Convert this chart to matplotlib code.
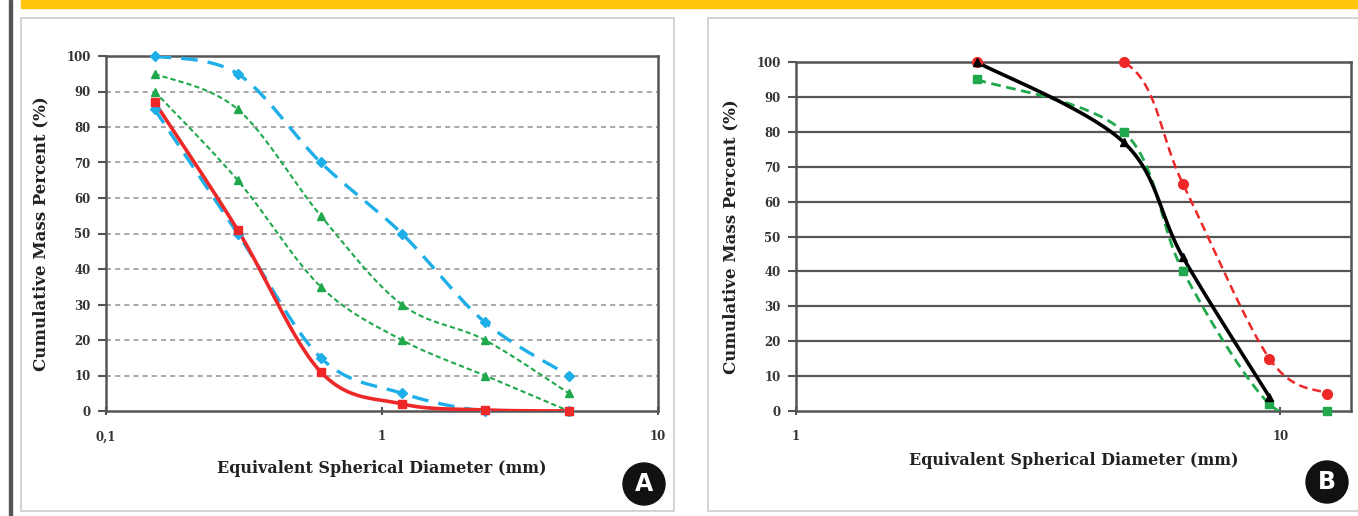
import numpy as np
import matplotlib
matplotlib.use("Agg")
import matplotlib.pyplot as plt
from matplotlib.patches import Rectangle, Ellipse
from matplotlib.ticker import FixedLocator, NullLocator

# Panel A data (sieve sizes in mm, cumulative mass percent)
sizesA = [0.15, 0.3, 0.6, 1.18, 2.36, 4.75]
blueUpperA = [100, 95, 70, 50, 25, 10]
greenUpperA = [95, 85, 55, 30, 20, 5]
greenLowerA = [90, 65, 35, 20, 10, 0]
blueLowerA = [85, 50, 15, 5, 0, 0]
redA = [87, 51, 11, 2, 0.3, 0]

# Panel B data
sizesB = [2.36, 4.75, 6.3, 9.5, 12.5]
blackB = [100, 77, 44, 4]
greenB = [95, 80, 40, 2, 0]
redB = [100, 100, 65, 15, 5]

BLUE = "#1eaee8"
GREEN = "#20a84c"
RED = "#ee2828"
SERIF = "DejaVu Serif"


# Smooth curve through points (Excel-like Bezier) in log-x space
def smooth(x, y, n=40):
    lx = np.log10(np.asarray(x, float))
    y = np.asarray(y, float)
    pts = np.column_stack([lx, y])
    pts = np.vstack([pts[0], pts, pts[-1]])
    out = []
    for i in range(1, len(pts) - 2):
        p0, p1, p2, p3 = pts[i - 1], pts[i], pts[i + 1], pts[i + 2]
        c1 = p1 + (p2 - p0) / 6
        c2 = p2 - (p3 - p1) / 6
        t = np.linspace(0, 1, n)[:, None]
        seg = (1 - t) ** 3 * p1 + 3 * (1 - t) ** 2 * t * c1 + 3 * (1 - t) * t ** 2 * c2 + t ** 3 * p2
        out.append(seg)
    out = np.vstack(out)
    return 10 ** out[:, 0], out[:, 1]


# lines are clipped to the plot area like in Excel, markers are not
def drawSeries(ax, x, y, color, lw, marker, ms, dashes=None):
    sx, sy = smooth(x, y)
    line, = ax.plot(sx, sy, color=color, lw=lw, zorder=3)
    if dashes:
        line.set_dashes(dashes)
    ax.plot(x, y, ls="none", marker=marker, ms=ms, color=color, zorder=4, clip_on=False)


def styleAxes(ax, xlim, xticks, xlabels, xlabelpad):
    ax.set_xscale("log")
    ax.set_xlim(*xlim)
    ax.set_ylim(0, 100)
    ax.xaxis.set_major_locator(FixedLocator(xticks))
    ax.xaxis.set_minor_locator(NullLocator())
    ax.set_xticklabels(xlabels)
    ax.set_yticks(np.arange(0, 101, 10))
    for lab in ax.get_xticklabels() + ax.get_yticklabels():
        lab.set_fontfamily(SERIF)
        lab.set_fontweight("bold")
        lab.set_fontsize(8.5)
        lab.set_color("#333333")
    ax.tick_params(axis="y", length=6, width=1.5, color="#555555", pad=5)
    ax.tick_params(axis="x", length=6, width=1.5, color="#555555", pad=11, direction="inout")
    for s in ax.spines.values():
        s.set_color("#555555")
        s.set_linewidth(1.8)
    ax.set_ylabel("Cumulative Mass Percent (%)", fontfamily=SERIF, fontweight="bold",
                  fontsize=12, color="#222222", labelpad=12)
    ax.set_xlabel("Equivalent Spherical Diameter (mm)", fontfamily=SERIF, fontweight="bold",
                  fontsize=11.5, color="#222222", labelpad=xlabelpad)


fig = plt.figure(figsize=(13.58, 5.16), dpi=100)

# Page decorations (behind the axes)
fig.patches.append(Rectangle((21 / 1358, 1 - 8 / 516), 1 - 21 / 1358, 8 / 516,
                             transform=fig.transFigure, color="#ffc60b", zorder=-1))
fig.patches.append(Rectangle((9 / 1358, 0), 2.5 / 1358, 1, transform=fig.transFigure,
                             color="#555555", zorder=-1))
fig.patches.append(Rectangle((21 / 1358, 5 / 516), 653 / 1358, 493 / 516, transform=fig.transFigure,
                             fc="white", ec="#cccccc", lw=1.2, zorder=-1))
fig.patches.append(Rectangle((708 / 1358, 5 / 516), 660 / 1358, 493 / 516, transform=fig.transFigure,
                             fc="white", ec="#cccccc", lw=1.2, zorder=-1))

# Panel A
axA = fig.add_axes([106 / 1358, 105 / 516, 552 / 1358, 355 / 516])
axA.set_facecolor("none")
for yv in range(10, 100, 10):
    axA.axhline(yv, color="#999999", lw=1.2, ls=(0, (3, 2.5)), zorder=1)
drawSeries(axA, sizesA, blueUpperA, BLUE, 2.4, "D", 5, dashes=(5, 3))
drawSeries(axA, sizesA, greenUpperA, GREEN, 1.5, "^", 6, dashes=(2.5, 1.5))
drawSeries(axA, sizesA, greenLowerA, GREEN, 1.5, "^", 6, dashes=(2.5, 1.5))
drawSeries(axA, sizesA, blueLowerA, BLUE, 2.4, "D", 5, dashes=(5, 3))
drawSeries(axA, sizesA, redA, RED, 2.6, "s", 6)
styleAxes(axA, (0.1, 10), [0.1, 1, 10], ["0,1", "1", "10"], 12)

# Panel B
axB = fig.add_axes([796 / 1358, 105 / 516, 555 / 1358, 349 / 516])
axB.set_facecolor("none")
for yv in range(10, 101, 10):
    axB.axhline(yv, color="#555555", lw=1.6, zorder=1)
drawSeries(axB, sizesB, greenB, GREEN, 2.0, "s", 6, dashes=(3.5, 2))
drawSeries(axB, sizesB, redB, RED, 1.8, "o", 7, dashes=(3.5, 2))
drawSeries(axB, sizesB[:4], blackB, "black", 2.6, "^", 6)
styleAxes(axB, (1, 14), [1, 10], ["1", "10"], 6)

# Panel letters
for cx, cy, letter in [(644, 484, "A"), (1327, 482, "B")]:
    fig.patches.append(Ellipse((cx / 1358, 1 - cy / 516), 42 / 1358, 42 / 516,
                               transform=fig.transFigure, color="#111111", zorder=5))
    fig.text(cx / 1358, 1 - cy / 516, letter, ha="center", va="center", color="white",
             fontsize=17, fontweight="bold", fontfamily="DejaVu Sans", zorder=6)

fig.savefig("out.png", dpi=100)
